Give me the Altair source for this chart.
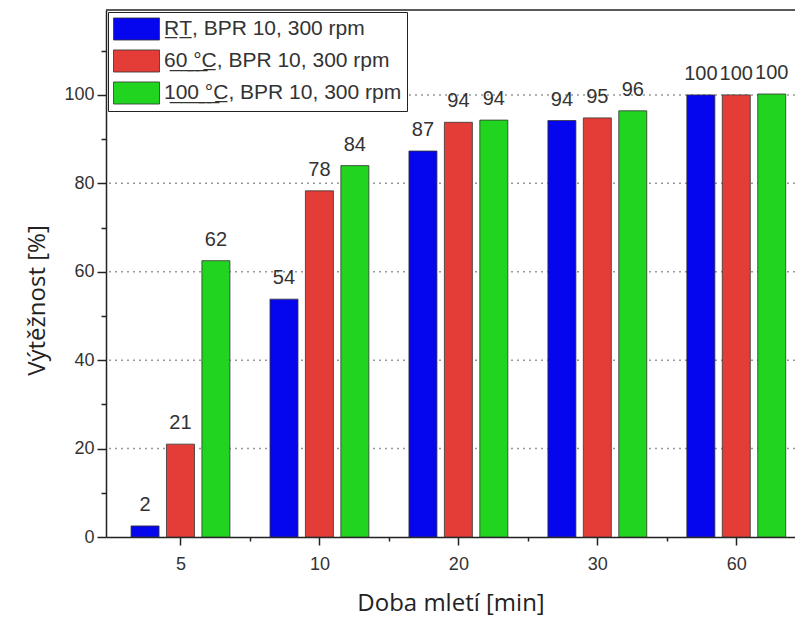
import altair as alt
import pandas as pd

times = ["5", "10", "20", "30", "60"]
series = ["R̲T̲, BPR 10, 300 rpm", "6̲0̲ ̲°̲C̲, BPR 10, 300 rpm", "1̲0̲0̲ ̲°̲C̲, BPR 10, 300 rpm"]
rt_vals = [2.5, 53.8, 87.3, 94.2, 100.0]
c60_vals = [21.0, 78.3, 93.8, 94.8, 100.0]
c100_vals = [62.5, 84.0, 94.3, 96.4, 100.2]
rt_labels = ["2", "54", "87", "94", "100"]
c60_labels = ["21", "78", "94", "95", "100"]
c100_labels = ["62", "84", "94", "96", "100"]
colors = ["#0505ee", "#e43c36", "#20d420"]
grid_vals = [20, 40, 60, 80, 100]

offsets = [-0.255, 0.0, 0.255]
rows = []
for s, vals, labs, off in zip(series, [rt_vals, c60_vals, c100_vals],
                              [rt_labels, c60_labels, c100_labels], offsets):
    for i, (v, l) in enumerate(zip(vals, labs)):
        rows.append({"series": s, "time": times[i], "x": i + off, "value": v, "label": l})
df = pd.DataFrame(rows)

W, H = 689, 527
xdom = [-0.5, -0.5 + W / 141.0]
ydom = [0, 119.2]
lab_arr = "[" + ",".join("'" + t + "'" for t in times) + "]"

xscale = alt.Scale(domain=xdom, nice=False, zero=False)
yscale = alt.Scale(domain=ydom, nice=False)

x_axis = alt.Axis(
    values=[0, 0.5, 1, 1.5, 2, 2.5, 3, 3.5, 4],
    labelExpr="datum.value % 1 === 0 ? " + lab_arr + "[datum.value] : ''",
    tickSize={"condition": {"test": "datum.value % 1 === 0", "value": 8}, "value": 4},
    grid=False, domainColor="#222", domainWidth=1.5, tickColor="#222", tickWidth=1.5,
    labelFont="Liberation Sans", labelFontSize=18, labelColor="#333", labelPadding=10,
    title="Doba mletí [min]", titleFont="Open Sans", titleFontSize=24,
    titleFontWeight="normal", titleColor="#222", titlePadding=18,
)
y_axis = alt.Axis(
    values=[0, 10, 20, 30, 40, 50, 60, 70, 80, 90, 100, 110],
    labelExpr="datum.value % 20 === 0 ? datum.label : ''",
    tickSize={"condition": {"test": "datum.value % 20 === 0", "value": 9}, "value": 5},
    grid=False, domainColor="#222", domainWidth=1.5, tickColor="#222", tickWidth=1.5,
    labelFont="Liberation Sans", labelFontSize=18, labelColor="#333", labelPadding=3,
    title="Výtěžnost [%]", titleFont="Open Sans", titleFontSize=24,
    titleFontWeight="normal", titleColor="#222", titlePadding=14, titleY=290,
)

base = alt.Chart(df)

grid = alt.Chart(pd.DataFrame({"g": grid_vals})).mark_rule(
    color="#999", strokeDash=[2, 4], strokeWidth=1.5
).encode(y=alt.Y("g:Q", scale=yscale, axis=y_axis))

bars = base.mark_bar(width=28, stroke="#333", strokeWidth=0.8).encode(
    x=alt.X("x:Q", scale=xscale, axis=x_axis),
    y=alt.Y("value:Q", scale=yscale, axis=y_axis),
    color=alt.Color(
        "series:N",
        scale=alt.Scale(domain=series, range=colors),
        sort=series,
        legend=alt.Legend(
            title=None, orient="none", legendX=2, legendY=2,
            symbolType="M-1,-0.96H3V0.96H-1Z", symbolSize=529,
            symbolStrokeColor="#333", symbolStrokeWidth=0.8, symbolOpacity=1,
            labelFont="Liberation Sans", labelFontSize=21, labelColor="#333",
            labelOffset=27, rowPadding=6, padding=5,
            strokeColor="#222", fillColor="white", labelLimit=400,
        ),
    ),
)

texts = base.mark_text(
    baseline="bottom", dy=-11, font="Liberation Sans", fontSize=20, color="#333"
).encode(
    x=alt.X("x:Q", scale=xscale),
    y=alt.Y("value:Q", scale=yscale),
    text="label:N",
)

top = alt.Chart(pd.DataFrame({"g": [0]})).mark_rule(color="#222", strokeWidth=1.5).encode(
    x=alt.value(0), x2=alt.value(W), y=alt.value(0)
)

chart = alt.layer(grid, bars, texts, top).properties(
    width=W, height=H,
    autosize=alt.AutoSizeParams(type="none"),
    padding={"left": 98, "top": 2, "right": 0, "bottom": 82},
).configure_view(stroke=None)

chart.save("out.html", embed_options={"renderer": "svg", "actions": False})
